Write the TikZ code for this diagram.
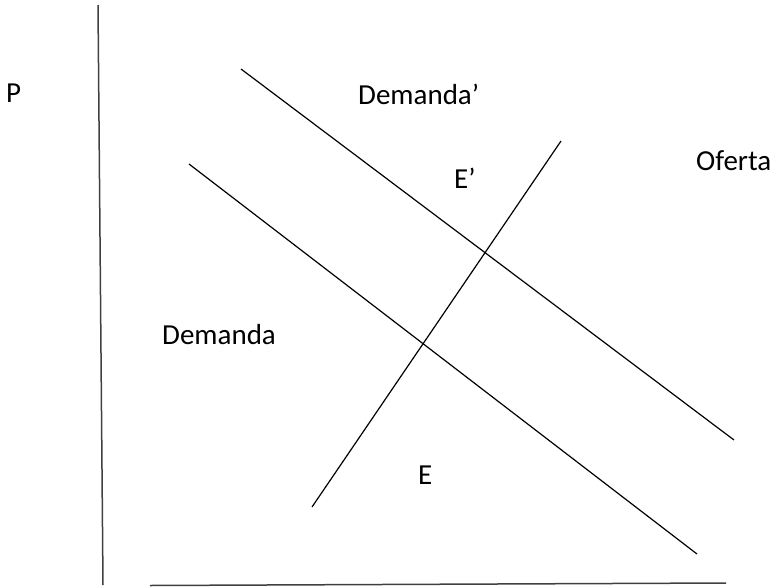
\documentclass[tikz,border=0pt]{standalone}
\usepackage{fontspec}
\setmainfont{Carlito}
\begin{document}
\begin{tikzpicture}[x=1pt,y=-1pt,
  curve/.style={draw=black,line width=1.2pt},
  axis/.style={draw=black!75,line width=1.5pt},
  lbl/.style={anchor=base west,inner sep=0pt,font=\fontsize{29}{34}\selectfont}]
\useasboundingbox (0,0) rectangle (777,587);
% axes
\coordinate (ytop) at (98,5);
\coordinate (origin) at (103,585);
\coordinate (xstart) at (150,585.5);
\coordinate (xend) at (726,583);
\draw[axis] (ytop) -- (origin);
\draw[axis] (xstart) -- (xend);
% curves
\coordinate (d2a) at (241,69);
\coordinate (d2b) at (734,440);
\coordinate (d1a) at (189,164);
\coordinate (d1b) at (697,554);
\coordinate (oa) at (312,507);
\coordinate (ob) at (561,141);
\draw[curve] (d2a) -- (d2b);
\draw[curve] (d1a) -- (d1b);
\draw[curve] (oa) -- (ob);
% labels
\node[lbl] (p) at (6,102) {P};
\node[lbl] (dem2) at (358,104) {Demanda’};
\node[lbl] (e2) at (454,188) {E’};
\node[lbl] (of) at (696,170) {Oferta};
\node[lbl] (dem) at (162,344) {Demanda};
\node[lbl] (e) at (418,484) {E};
\end{tikzpicture}
\end{document}
